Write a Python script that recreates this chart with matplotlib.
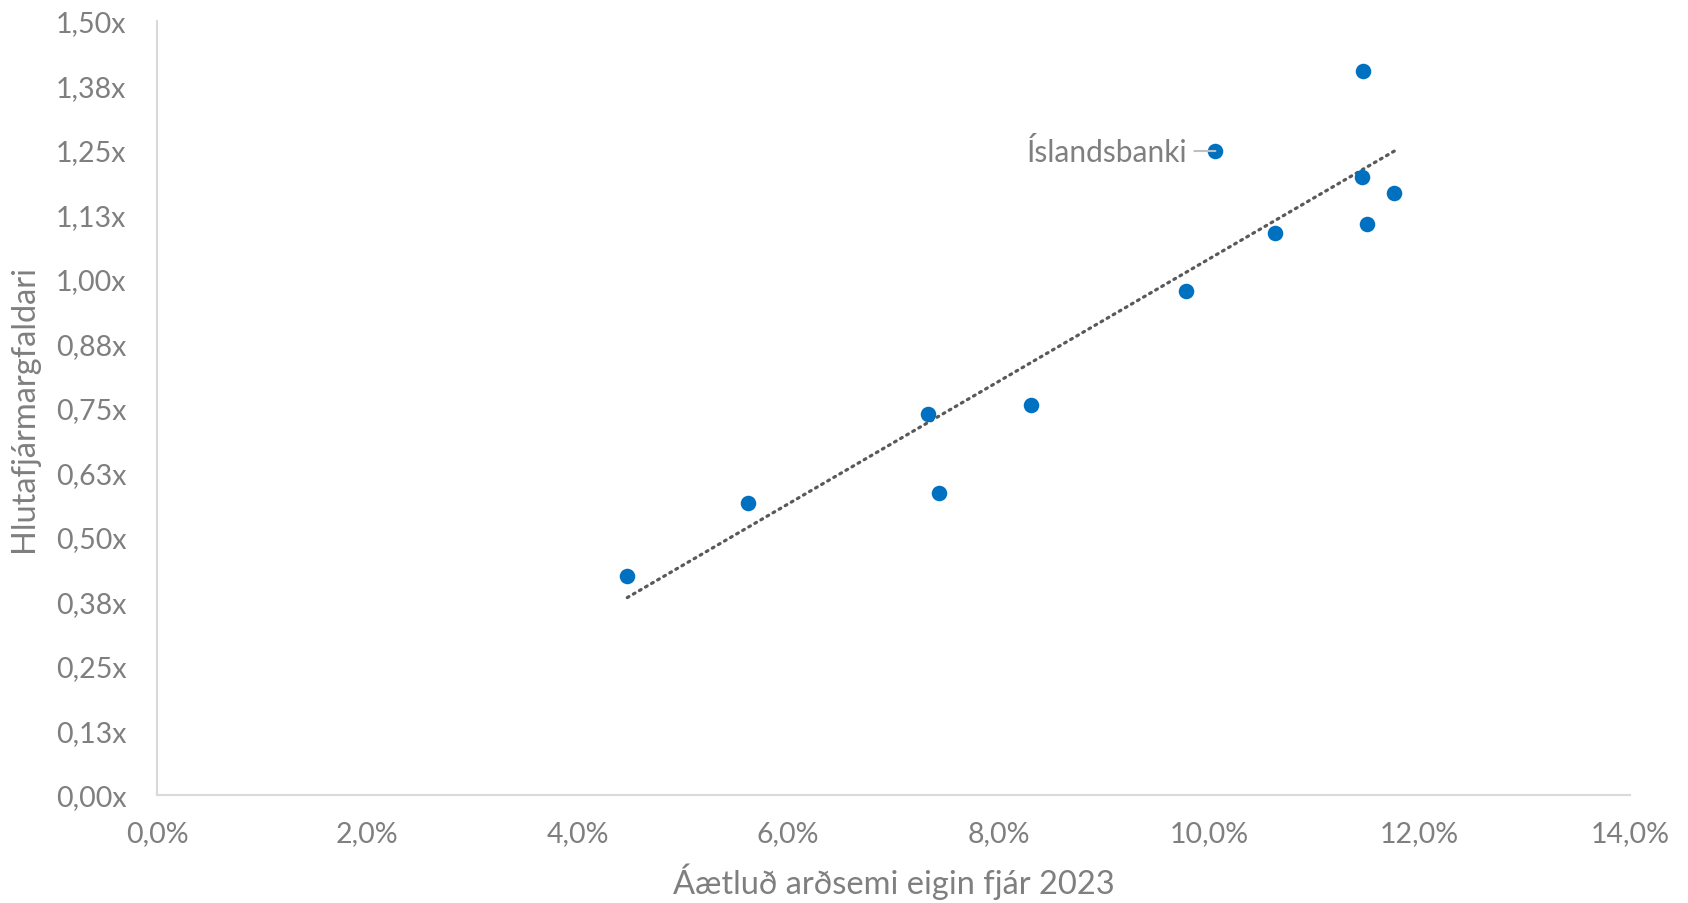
import numpy as np
import matplotlib.pyplot as plt
from matplotlib.ticker import FuncFormatter, MultipleLocator

plt.rcParams['font.family'] = ['Lato', 'DejaVu Sans']

# Áætluð arðsemi eigin fjár 2023 (%) og hlutafjármargfaldari (x)
banki = ['', '', '', '', '', '', 'Íslandsbanki', '', '', '', '', '']
arðsemi = [4.47, 5.62, 7.33, 7.43, 8.31, 9.78, 10.06, 10.63, 11.46, 11.45, 11.50, 11.76]
margfaldari = [0.424, 0.565, 0.739, 0.586, 0.755, 0.976, 1.248, 1.089, 1.404, 1.198, 1.106, 1.166]

GRAR = '#7f7f7f'
BLAR = '#0070C0'

fig = plt.figure(figsize=(16.88, 9.04), dpi=100)
ax = fig.add_axes([0.093, 0.1195, 0.8726, 0.8562])

x = np.array(arðsemi)
y = np.array(margfaldari)

# línuleg leitni yfir bilið sem gögnin ná yfir
k, m = np.polyfit(x, y, 1)
xl = np.array([x.min(), x.max()])
ax.plot(xl, k * xl + m, color='#595959', lw=2.3, linestyle=(0, (0.6, 1.6)),
        dash_capstyle='round', zorder=2)

ax.scatter(x, y, s=125, color=BLAR, zorder=3, linewidths=0)

for nafn, xi, yi in zip(banki, x, y):
    if nafn:
        ax.annotate(nafn, (xi, yi), xytext=(-28, 0), textcoords='offset pixels',
                    ha='right', va='center', fontsize=21.5, color=GRAR,
                    arrowprops=dict(arrowstyle='-', color='#bfbfbf', lw=1.5,
                                    shrinkA=3, shrinkB=0), zorder=4)

ax.set_xlim(0, 14)
ax.set_ylim(0, 1.5)
ax.xaxis.set_major_locator(MultipleLocator(2))
ax.yaxis.set_major_locator(MultipleLocator(0.125))
# námundað upp á helmingi (0,125 -> 0,13)
ax.xaxis.set_major_formatter(FuncFormatter(lambda v, p: f'{v:.1f}%'.replace('.', ',')))
ax.yaxis.set_major_formatter(FuncFormatter(lambda v, p: f'{v + 1e-9:.2f}x'.replace('.', ',')))

for s in ['top', 'right']:
    ax.spines[s].set_visible(False)
for s in ['left', 'bottom']:
    ax.spines[s].set_color('#d9d9d9')
    ax.spines[s].set_linewidth(1.5)

ax.tick_params(axis='both', length=0, labelsize=20.5, labelcolor=GRAR)
ax.tick_params(axis='x', pad=18)
ax.tick_params(axis='y', pad=22)

ax.set_xlabel('Áætluð arðsemi eigin fjár 2023', fontsize=23.5, color=GRAR, labelpad=12)
ax.set_ylabel('Hlutafjármargfaldari', fontsize=23.5, color=GRAR, labelpad=12)

fig.savefig('out.png', dpi=100)
